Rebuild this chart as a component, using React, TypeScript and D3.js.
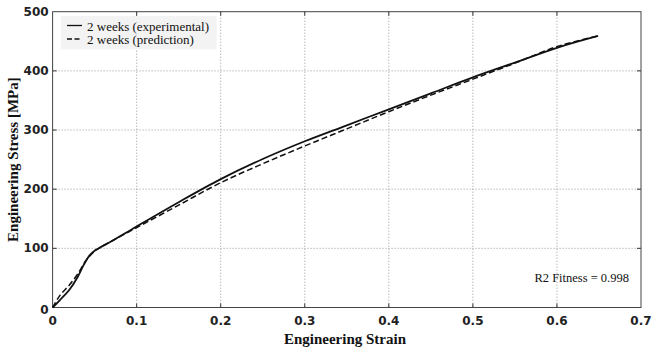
import React from "react";
import * as d3 from "d3";

const expStrain = [0, 0.009, 0.02, 0.03, 0.037, 0.044, 0.05, 0.056, 0.07, 0.1, 0.15, 0.2, 0.25, 0.3, 0.35, 0.4, 0.45, 0.5, 0.55, 0.6, 0.649];
const expStress = [0, 13, 30, 52, 72, 88, 96, 101, 112, 137, 178, 217, 251, 281, 308, 335, 362, 389, 414, 439, 459];

const predStrain = [0, 0.009, 0.02, 0.03, 0.04, 0.05, 0.056, 0.07, 0.1, 0.15, 0.2, 0.25, 0.3, 0.35, 0.4, 0.45, 0.5, 0.55, 0.6, 0.649];
const predStress = [0, 21, 38, 57, 80, 95, 101, 112, 135, 173, 211, 243, 273, 302, 331, 359, 386, 413, 441, 459];

const xTicks = [0, 0.1, 0.2, 0.3, 0.4, 0.5, 0.6, 0.7];
const yTicks = [0, 100, 200, 300, 400, 500];
const legendLabels = ["2 weeks (experimental)", "2 weeks (prediction)"];
const fitnessLabel = "R2 Fitness = 0.998";

export default function App() {
  const W = 652, H = 350;
  const left = 52.6, right = 641, top = 11.7, bottom = 307.5;
  const x = d3.scaleLinear().domain([0, 0.7]).range([left, right]);
  const y = d3.scaleLinear().domain([0, 500]).range([bottom, top]);
  const line = d3.line<[number, number]>().x(d => x(d[0])).y(d => y(d[1])).curve(d3.curveCatmullRom.alpha(0.5));
  const expPts: [number, number][] = expStrain.map((s, i) => [s, expStress[i]]);
  const predPts: [number, number][] = predStrain.map((s, i) => [s, predStress[i]]);
  const tickFont = "'DejaVu Sans', sans-serif";
  const serif = "'Liberation Serif', 'Times New Roman', serif";
  return (
    <svg width={W} height={H} style={{ position: "absolute", left: 0, top: 0, background: "#fff" }}>
      <rect x={0} y={0} width={W} height={H} fill="#fff" />
      {xTicks.slice(1, -1).map(t => (
        <line key={"gx" + t} x1={x(t)} x2={x(t)} y1={top} y2={bottom} stroke="#999" strokeWidth={1} strokeDasharray="1,2" />
      ))}
      {yTicks.slice(1, -1).map(t => (
        <line key={"gy" + t} x1={left} x2={right} y1={y(t)} y2={y(t)} stroke="#999" strokeWidth={1} strokeDasharray="1,2" />
      ))}
      {xTicks.slice(1, -1).map(t => (
        <g key={"tx" + t}>
          <line x1={x(t)} x2={x(t)} y1={top} y2={top + 4} stroke="#333" />
          <line x1={x(t)} x2={x(t)} y1={bottom} y2={bottom - 4} stroke="#333" />
        </g>
      ))}
      {yTicks.slice(1, -1).map(t => (
        <g key={"ty" + t}>
          <line x1={left} x2={left + 4} y1={y(t)} y2={y(t)} stroke="#333" />
          <line x1={right} x2={right - 4} y1={y(t)} y2={y(t)} stroke="#333" />
        </g>
      ))}
      <rect x={left} y={top} width={right - left} height={bottom - top} fill="none" stroke="#444" strokeWidth={1} />
      <path d={line(predPts) || ""} fill="none" stroke="#111" strokeWidth={1.5} strokeDasharray="6,3" />
      <path d={line(expPts) || ""} fill="none" stroke="#111" strokeWidth={1.8} />
      {xTicks.map(t => (
        <text key={"lx" + t} x={x(t)} y={bottom + 17} textAnchor="middle" fontFamily={tickFont} fontWeight="bold" fontSize={12} fill="#222">
          {t === 0 ? "0" : t.toFixed(1)}
        </text>
      ))}
      {yTicks.map(t => (
        <text key={"ly" + t} x={left - 4} y={y(t) + (t === 0 ? 6 : 4)} textAnchor="end" fontFamily={tickFont} fontWeight="bold" fontSize={12} fill="#222">
          {t}
        </text>
      ))}
      <text x={345} y={344} textAnchor="middle" fontFamily={serif} fontWeight="bold" fontSize={15} fill="#111">
        Engineering Strain
      </text>
      <text transform={`translate(18, ${(top + bottom) / 2}) rotate(-90)`} textAnchor="middle" fontFamily={serif} fontWeight="bold" fontSize={15} fill="#111">
        Engineering Stress [MPa]
      </text>
      <rect x={60.7} y={16} width={156} height={33.3} fill="#f3f3f3" />
      <line x1={67} x2={82} y1={25.5} y2={25.5} stroke="#111" strokeWidth={1.3} />
      <line x1={67} x2={82} y1={39} y2={39} stroke="#111" strokeWidth={1.3} strokeDasharray="5,2.5" />
      {legendLabels.map((l, i) => (
        <text key={l} x={87} y={30.5 + i * 13.5} fontFamily={serif} fontSize={13} fill="#111">{l}</text>
      ))}
      <text x={629} y={281.5} textAnchor="end" fontFamily={serif} fontSize={12.5} fill="#111">{fitnessLabel}</text>
    </svg>
  );
}
